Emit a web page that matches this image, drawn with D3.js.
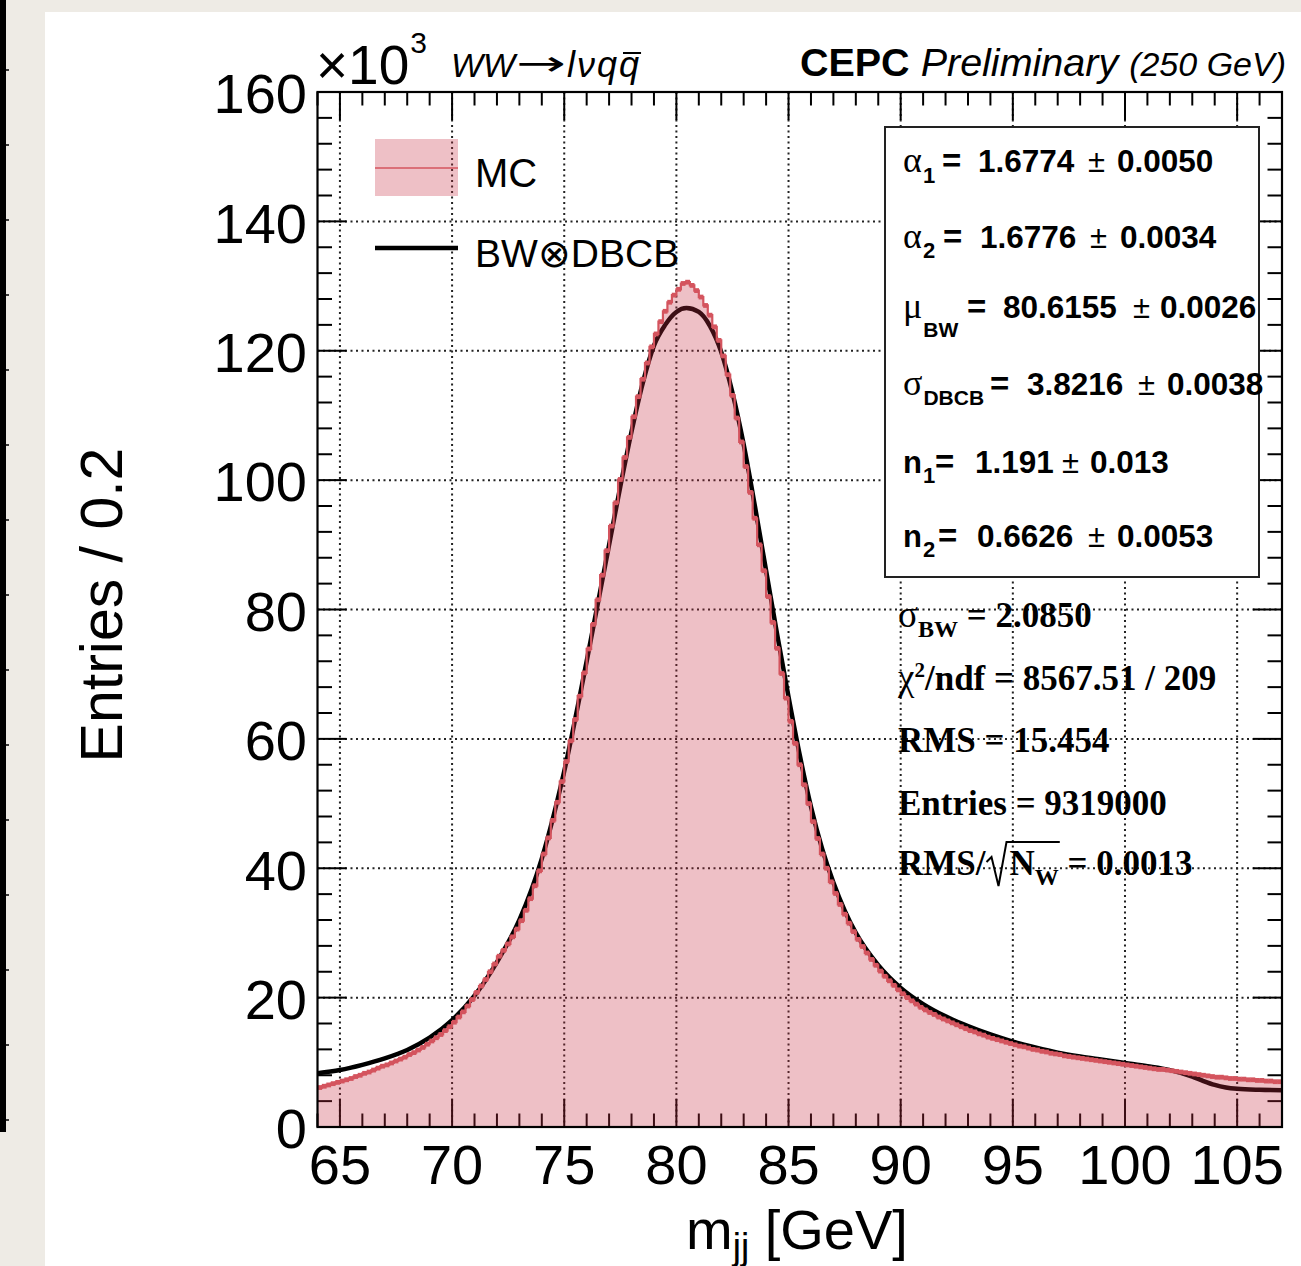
<!DOCTYPE html>
<html><head><meta charset="utf-8">
<script src="https://cdn.jsdelivr.net/npm/d3@7"></script>
<style>
html,body{margin:0;padding:0;background:#eeebe5;}
svg{display:block;}
</style></head>
<body>
<svg id="chart" width="1301" height="1266"></svg>
<script>
// ---------------- data ----------------
const binStart = 64, binWidth = 0.2;
// MC histogram, entries per 0.2 GeV (x10^3), bins 64.0-107.0
const mcValues = [
 6.1,6.3,6.5,6.7,6.9,7.1,7.3,7.5,7.8,8.0,
 8.3,8.5,8.8,9.1,9.4,9.6,9.9,10.2,10.5,10.8,
 11.2,11.5,11.9,12.3,12.8,13.3,13.8,14.3,14.9,15.5,
 16.2,17.0,17.8,18.7,19.7,20.8,21.8,22.8,24.0,25.2,
 26.4,27.3,28.3,29.4,30.6,31.9,33.5,35.3,37.3,39.6,
 42.2,44.7,47.4,50.2,53.4,56.5,59.7,63.0,66.6,70.2,
 73.9,77.7,81.5,85.3,89.1,92.9,96.5,100.1,103.5,106.6,
 109.8,112.9,115.6,118.1,120.6,122.6,124.5,126.1,127.5,128.6,
 129.5,130.4,130.6,130.1,129.3,128.3,127.0,125.5,123.7,121.6,
 119.2,116.3,113.1,109.6,105.9,102.1,98.1,94.1,90.0,86.0,
 82.0,78.0,74.0,70.1,66.3,62.7,59.3,56.0,52.9,50.0,
 47.2,44.6,42.2,40.0,37.9,36.1,34.4,32.9,31.5,30.2,
 29.0,27.9,26.9,25.9,25.0,24.1,23.3,22.6,21.9,21.2,
 20.6,20.0,19.5,19.0,18.5,18.1,17.7,17.4,17.0,16.7,
 16.4,16.1,15.8,15.5,15.2,14.9,14.7,14.4,14.2,13.9,
 13.7,13.5,13.3,13.1,12.9,12.7,12.5,12.4,12.2,12.0,
 11.9,11.7,11.6,11.4,11.3,11.2,11.0,10.9,10.8,10.7,
 10.6,10.5,10.4,10.3,10.2,10.1,10.0,9.9,9.8,9.7,
 9.6,9.5,9.4,9.3,9.2,9.1,9.0,8.9,8.9,8.8,
 8.7,8.6,8.5,8.4,8.3,8.2,8.1,8.0,7.9,7.8,
 7.7,7.7,7.6,7.5,7.5,7.4,7.4,7.3,7.3,7.2,
 7.2,7.1,7.1,7.0,7.0
];
// BW (x) DBCB fit curve, sampled points
const fitMass = [64,65,66,67,68,69,70,71,72,73,74,75,76,77,77.5,78,78.5,79,79.5,80,80.45,81,81.5,82,82.5,83,83.5,84,84.5,85,85.5,86,86.5,87,87.5,88,89,90,91,92,93,94,95,96,97,98,99,100,101,102,103,103.5,104,104.5,105,106,107];
const fitValues = [8.3,8.8,9.6,10.6,11.9,13.8,16.5,20.3,25.5,32,41.5,55,72,90,99,107.5,115,120.8,124,126,126.6,126,123.8,119.8,113.5,105.5,96,86,76,66.5,57.5,49.5,43,37.8,33.5,30,25,21.5,19,17.1,15.6,14.3,13.2,12.3,11.5,10.9,10.4,9.9,9.4,8.8,7.8,7.1,6.5,6.1,5.9,5.75,5.7];
const xDomain = [64, 107];
const yDomain = [0, 160];
const xMajorTicks = [65,70,75,80,85,90,95,100,105];
const yMajorTicks = [0,20,40,60,80,100,120,140,160];
const legendLabels = ["MC", "BW\u2297DBCB"];
const fitParams = [
  {sym:"\u03b1", sub:"1", val:"1.6774", err:"0.0050"},
  {sym:"\u03b1", sub:"2", val:"1.6776", err:"0.0034"},
  {sym:"\u03bc", sub:"BW", val:"80.6155", err:"0.0026"},
  {sym:"\u03c3", sub:"DBCB", val:"3.8216", err:"0.0038"},
  {sym:"n", sub:"1", val:"1.191", err:"0.013"},
  {sym:"n", sub:"2", val:"0.6626", err:"0.0053"}
];

// ---------------- drawing ----------------
const svg = d3.select("#chart");
const SANS = "'Liberation Sans', Arial, Helvetica, sans-serif";
const SERIF = "'Liberation Serif', 'Times New Roman', serif";
const W = 1301, H = 1266;
const frame = {l:317.5, r:1282, t:92, b:1127};
const x = d3.scaleLinear().domain(xDomain).range([frame.l, frame.r]);
const y = d3.scaleLinear().domain(yDomain).range([frame.b, frame.t]);

const histLine = "#d4545e";
const histFill = "rgba(200,45,65,0.30)";

// page background pieces
svg.append("rect").attr("x",0).attr("y",0).attr("width",W).attr("height",H).attr("fill","#eeebe5");
svg.append("rect").attr("x",45).attr("y",12).attr("width",W-45).attr("height",H-12).attr("fill","#ffffff");
svg.append("rect").attr("x",0).attr("y",0).attr("width",6).attr("height",1132).attr("fill","#000");
d3.range(70, 1132, 75).forEach(v=>{
  svg.append("line").attr("x1",6).attr("x2",9).attr("y1",v).attr("y2",v).attr("stroke","#000").attr("stroke-width",1.5);
});

const gPlot = svg.append("g");

// grid
const xMinor = d3.range(xDomain[0], xDomain[1]+0.001, 1);
const yMinor = d3.range(0, 160.001, 4);
gPlot.selectAll(".gx").data(xMajorTicks).join("line")
  .attr("x1",d=>x(d)).attr("x2",d=>x(d)).attr("y1",frame.t).attr("y2",frame.b)
  .attr("stroke","#222").attr("stroke-width",2).attr("stroke-dasharray","2,3.5");
gPlot.selectAll(".gy").data(yMajorTicks.filter(d=>d>0 && d<160)).join("line")
  .attr("x1",frame.l).attr("x2",frame.r).attr("y1",d=>y(d)).attr("y2",d=>y(d))
  .attr("stroke","#222").attr("stroke-width",2).attr("stroke-dasharray","2,3.5");

// ticks (all four sides)
const tk = gPlot.append("g").attr("stroke","#000").attr("stroke-width",2);
xMinor.forEach(v=>{
  const major = xMajorTicks.includes(v);
  const L = major ? 28 : 13.5;
  tk.append("line").attr("x1",x(v)).attr("x2",x(v)).attr("y1",frame.b).attr("y2",frame.b-L);
  tk.append("line").attr("x1",x(v)).attr("x2",x(v)).attr("y1",frame.t).attr("y2",frame.t+L);
});
yMinor.forEach(v=>{
  const major = yMajorTicks.includes(v);
  const L = major ? 29 : 14.5;
  tk.append("line").attr("x1",frame.l).attr("x2",frame.l+L).attr("y1",y(v)).attr("y2",y(v));
  tk.append("line").attr("x1",frame.r).attr("x2",frame.r-L).attr("y1",y(v)).attr("y2",y(v));
});

// fit curve
const fitPts = fitMass.map((m,i)=>[m, fitValues[i]]);
gPlot.append("path").datum(fitPts)
  .attr("d", d3.line().x(d=>x(d[0])).y(d=>y(d[1])).curve(d3.curveMonotoneX))
  .attr("fill","none").attr("stroke","#000").attr("stroke-width",4.5).attr("stroke-linejoin","round");

// histogram
const bins = mcValues.map((v,i)=>({lo: binStart + i*binWidth, hi: binStart + (i+1)*binWidth, v}));
const stepPts = bins.map(b=>[b.lo, b.v]).concat([[bins[bins.length-1].hi, bins[bins.length-1].v]]);
gPlot.append("path").datum(stepPts)
  .attr("d", d3.area().x(d=>x(d[0])).y0(y(0)).y1(d=>y(d[1])).curve(d3.curveStepAfter))
  .attr("fill", histFill);
gPlot.append("path").datum(stepPts)
  .attr("d", d3.line().x(d=>x(d[0])).y(d=>y(d[1])).curve(d3.curveStepAfter))
  .attr("fill","none").attr("stroke",histLine).attr("stroke-width",2.2);
gPlot.selectAll(".mk").data(bins).join("rect")
  .attr("x", b=>x((b.lo+b.hi)/2)-2.4).attr("y", b=>y(b.v)-2.4)
  .attr("width",4.8).attr("height",4.8).attr("fill",histLine);

// frame
gPlot.append("rect").attr("x",frame.l).attr("y",frame.t).attr("width",frame.r-frame.l).attr("height",frame.b-frame.t)
  .attr("fill","none").attr("stroke","#000").attr("stroke-width",2.2);

// tick labels
svg.selectAll(".xl").data(xMajorTicks).join("text")
  .attr("x",d=>x(d)).attr("y",1184).attr("text-anchor","middle")
  .attr("font-family",SANS).attr("font-size",56).attr("fill","#000").text(d=>d);
svg.selectAll(".yl").data(yMajorTicks).join("text")
  .attr("x",307).attr("y",d=>y(d)).attr("dy","0.38em").attr("text-anchor","end")
  .attr("font-family",SANS).attr("font-size",56).attr("fill","#000").text(d=>d);

// axis titles
svg.append("text").attr("transform","translate(122,605) rotate(-90)").attr("text-anchor","middle")
  .attr("font-family",SANS).attr("font-size",59).attr("fill","#000").text("Entries / 0.2");
const xt = svg.append("text").attr("x",686).attr("y",1249).attr("font-family",SANS).attr("font-size",56).attr("fill","#000");
xt.append("tspan").text("m");
xt.append("tspan").attr("dy",10).attr("font-size",37).text("jj");
xt.append("tspan").attr("dy",-10).text(" [GeV]");

// header: x10^3 and process
const h1 = svg.append("text").attr("x",316).attr("y",84).attr("font-family",SANS).attr("font-size",55).attr("fill","#000");
h1.append("tspan").text("\u00d710");
h1.append("tspan").attr("dy",-31).attr("dx",1).attr("font-size",30).text("3");
const proc = svg.append("text").attr("y",77).attr("font-family",SANS).attr("font-style","italic")
  .attr("font-size",34).attr("fill","#000");
proc.append("tspan").attr("x",451).text("WW");
proc.append("tspan").attr("x",516).attr("y",75).attr("font-style","normal").attr("font-family","'DejaVu Sans', sans-serif")
  .attr("font-size",34).attr("textLength",50).attr("lengthAdjust","spacingAndGlyphs").text("\u2192");
proc.append("tspan").attr("x",567).attr("y",77).attr("font-size",36).attr("letter-spacing",2).text("l\u03bdqq");
const pn = proc.node();
const nChars = pn.getNumberOfChars();
const lastQ = pn.getExtentOfChar(nChars-1);
svg.append("line").attr("x1",lastQ.x+4).attr("x2",lastQ.x+lastQ.width).attr("y1",53).attr("y2",53)
  .attr("stroke","#000").attr("stroke-width",2);

const h2 = svg.append("text").attr("x",1286).attr("y",76).attr("text-anchor","end").attr("font-family",SANS).attr("fill","#000");
h2.append("tspan").attr("font-weight","bold").attr("font-size",39.5).text("CEPC ");
h2.append("tspan").attr("font-style","italic").attr("font-size",39.5).text("Preliminary ");
h2.append("tspan").attr("font-style","italic").attr("font-size",34).text("(250 GeV)");

// legend
const lg = svg.append("g");
lg.append("rect").attr("x",375).attr("y",139).attr("width",83).attr("height",57).attr("fill",histFill);
lg.append("line").attr("x1",375).attr("x2",458).attr("y1",168).attr("y2",168).attr("stroke",histLine).attr("stroke-width",1.5);
lg.append("line").attr("x1",375).attr("x2",458).attr("y1",248).attr("y2",248).attr("stroke","#000").attr("stroke-width",4.5);
lg.append("text").attr("x",475).attr("y",187).attr("font-family",SANS).attr("font-size",40).text(legendLabels[0]);
lg.append("text").attr("x",475).attr("y",267).attr("font-family",SANS).attr("font-size",39).text(legendLabels[1]);

// fit parameter box
svg.append("rect").attr("x",885).attr("y",127).attr("width",374).attr("height",450)
  .attr("fill","#fff").attr("stroke","#222").attr("stroke-width",2);
// per-line layout: baseline, subscript shift, x of "=", value, "±", error
const pLayout = [
  {yb:172, dy:11, xe:942, xv:978,  xpm:1088, xer:1117},
  {yb:248, dy:10, xe:943, xv:980,  xpm:1090, xer:1120},
  {yb:318, dy:19, xe:967, xv:1003, xpm:1133, xer:1160},
  {yb:395, dy:10, xe:990, xv:1027, xpm:1138, xer:1167},
  {yb:473, dy:10, xe:935, xv:975,  xpm:1062, xer:1090},
  {yb:547, dy:10, xe:938, xv:977,  xpm:1088, xer:1117}
];
fitParams.forEach((p,i)=>{
  const L = pLayout[i];
  const g = svg.append("g").attr("font-family",SANS).attr("fill","#000");
  const t = g.append("text").attr("x",903).attr("y",L.yb).attr("font-size",31);
  if (p.sym === "n") t.append("tspan").attr("font-weight","bold").text(p.sym);
  else t.append("tspan").attr("font-family",SERIF).attr("font-size",36).text(p.sym);
  t.append("tspan").attr("dy",L.dy).attr("dx",1).attr("font-weight","bold").attr("font-size", p.sub.length>1 ? 21 : 22).text(p.sub);
  g.append("text").attr("x",L.xe).attr("y",L.yb).attr("font-size",33).attr("font-weight","bold").text("=");
  g.append("text").attr("x",L.xv).attr("y",L.yb).attr("font-size",31.5).attr("font-weight","bold").text(p.val);
  g.append("text").attr("x",L.xpm).attr("y",L.yb).attr("font-size",31).text("\u00b1");
  g.append("text").attr("x",L.xer).attr("y",L.yb).attr("font-size",31.5).attr("font-weight","bold").text(p.err);
});

// summary text block (serif bold)
function serifLine(yb){ return svg.append("text").attr("x",898).attr("y",yb).attr("font-family",SERIF).attr("font-weight","bold").attr("font-size",35).attr("fill","#000"); }
let t1 = serifLine(627);
t1.append("tspan").attr("font-weight","normal").attr("font-size",37).text("\u03c3");
t1.append("tspan").attr("dy",10).attr("font-size",24).text("BW");
t1.append("tspan").attr("dy",-10).text(" = 2.0850");
let t2 = serifLine(690);
t2.append("tspan").attr("font-weight","normal").attr("font-size",37).text("\u03c7");
t2.append("tspan").attr("dy",-13).attr("font-size",21).text("2");
t2.append("tspan").attr("dy",13).text("/ndf = 8567.51 / 209");
serifLine(752).text("RMS = 15.454");
serifLine(815).text("Entries = 9319000");
let t5 = serifLine(875);
t5.append("tspan").text("RMS/");
t5.append("tspan").attr("dx",24).text("N");
t5.append("tspan").attr("dy",10).attr("font-size",24).text("W");
t5.append("tspan").attr("dy",-10).text(" = 0.0013");
const n5 = t5.node();
const eSl = n5.getExtentOfChar(3);   // "/"
const eN = n5.getExtentOfChar(4);    // "N"
const eW = n5.getExtentOfChar(5);    // "W"
const r0 = eSl.x + eSl.width;
svg.append("path")
  .attr("d", `M${r0+1},862 L${r0+6},857 L${r0+13},886 L${eN.x-3},842 L${eW.x+eW.width+1},842`)
  .attr("fill","none").attr("stroke","#000").attr("stroke-width",2);
</script>
</body></html>
